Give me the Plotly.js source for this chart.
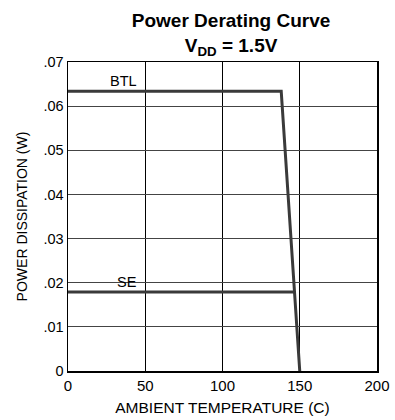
<!DOCTYPE html>
<html>
<head>
<meta charset="utf-8">
<script src="https://cdn.plot.ly/plotly-3.0.1.min.js"></script>
<style>html,body{margin:0;padding:0;background:#fff;}#chart{width:395px;height:420px;}</style>
</head>
<body>
<div id="chart"></div>
<script>
const btlTemp = [0, 138, 150];
const btlPower = [0.0634, 0.0634, 0];
const seTemp = [0, 146.5];
const sePower = [0.0179, 0.0179];
const xTicks = [0, 50, 100, 150, 200];
const yTicks = [0, 0.01, 0.02, 0.03, 0.04, 0.05, 0.06, 0.07];
const yTickText = ['0', '.01', '.02', '.03', '.04', '.05', '.06', '.07'];
const seriesLabels = ['BTL', 'SE'];

const font = 'Liberation Sans, Arial, sans-serif';
const traces = [
  {x: btlTemp, y: btlPower, mode: 'lines', line: {color: '#3a3a3a', width: 3}, hoverinfo: 'skip'},
  {x: seTemp, y: sePower, mode: 'lines', line: {color: '#3a3a3a', width: 3}, hoverinfo: 'skip'}
];
const layout = {
  width: 395, height: 420,
  margin: {l: 68, r: 18, t: 62, b: 49},
  paper_bgcolor: '#fff', plot_bgcolor: '#fff',
  showlegend: false,
  font: {family: font, size: 14, color: '#000'},
  title: {
    text: '<b>Power Derating Curve</b><br><b>V<sub>DD</sub> = 1.5V</b>',
    x: 0.585, xanchor: 'center', yref: 'container', y: 0.936, yanchor: 'middle',
    font: {family: font, size: 19, color: '#000'}
  },
  xaxis: {
    range: [0, 200], tickvals: xTicks, ticks: '', showgrid: true, gridcolor: '#000', gridwidth: 1,
    zeroline: false, showline: true, linecolor: '#000', linewidth: 1.5, mirror: true,
    tickfont: {size: 15},
    title: {text: 'AMBIENT TEMPERATURE (C)', font: {size: 15.5}, standoff: 9}
  },
  yaxis: {
    range: [0, 0.07], tickvals: yTicks, ticktext: yTickText, ticks: '', showgrid: true, gridcolor: '#444', gridwidth: 1,
    zeroline: false, showline: true, linecolor: '#000', linewidth: 1.5, mirror: true,
    tickfont: {size: 14.5},
    title: {text: 'POWER DISSIPATION (W)', font: {size: 14}, standoff: 12}
  },
  annotations: [
    {x: 36, y: btlPower[0], text: seriesLabels[0], showarrow: false, yanchor: 'bottom', yshift: 0, font: {size: 14.5}},
    {x: 38, y: sePower[0], text: seriesLabels[1], showarrow: false, yanchor: 'bottom', yshift: 0, font: {size: 14.5}}
  ]
};
Plotly.newPlot('chart', traces, layout, {displayModeBar: false, staticPlot: true});
</script>
</body>
</html>
